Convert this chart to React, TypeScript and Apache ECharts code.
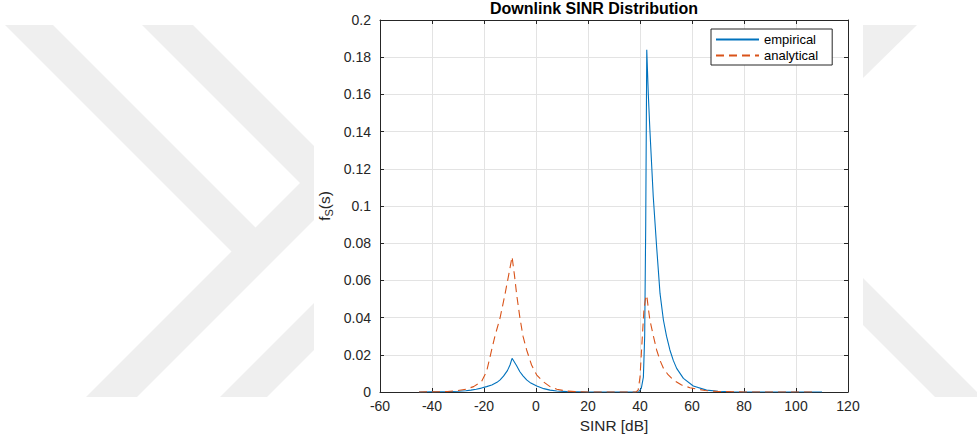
import React, { useEffect, useRef } from "react";
import * as echarts from "echarts";

// ---- data ----
const seriesNames = ["empirical", "analytical"];

const empiricalX = [
  -45, -35, -30, -27, -25, -23, -21, -19, -17, -15, -13.8, -12.5, -11, -10, -9.2,
  -8.5, -7.5, -6.2, -5, -3.6, -2, 0.3, 3, 5.4, 8, 12, 16, 20,
  39.5, 40.5, 41.3, 41.8, 42.2, 42.6, 43.2, 43.8, 45.1, 46.4, 47.7, 49, 50.2,
  51.5, 52.8, 54.1, 56.7, 60.5, 65.6, 70, 75, 80, 110,
];
const empiricalY = [
  0, 0.0002, 0.0004, 0.0007, 0.001, 0.0015, 0.0021, 0.0029, 0.0038, 0.0052, 0.0065,
  0.0085, 0.0115, 0.0145, 0.0181, 0.0165, 0.0142, 0.0109, 0.0087, 0.0065, 0.0048,
  0.0032, 0.0018, 0.001, 0.0005, 0.0002, 0.0001, 0,
  0, 0.002, 0.008, 0.03, 0.09, 0.184, 0.16, 0.141, 0.105, 0.078, 0.053, 0.0387,
  0.03, 0.0226, 0.017, 0.0127, 0.0073, 0.0032, 0.001, 0.0004, 0.0001, 0, 0,
];

const analyticalX = [
  -45, -38, -34, -30, -27, -24, -21, -19, -17.5, -15.8, -13.8, -12, -10.5, -9.2,
  -8.3, -7.4, -6.2, -5, -3.6, -1.7, 0.3, 2.8, 5.4, 8, 11.8, 15, 20,
  38.5, 39.3, 40, 40.6, 41.5, 42.1, 42.6, 43.2, 43.8, 45, 46.4, 47.7, 49, 50.8,
  52.8, 56, 59.2, 65, 70, 80, 108,
];
const analyticalY = [
  0, 0.0001, 0.0003, 0.0008, 0.0015, 0.0029, 0.0055, 0.011, 0.02, 0.03, 0.04,
  0.052, 0.063, 0.0727, 0.063, 0.052, 0.04, 0.03, 0.0226, 0.0145, 0.0091, 0.0055,
  0.0029, 0.0015, 0.0005, 0.0002, 0,
  0, 0.001, 0.008, 0.0226, 0.044, 0.05, 0.052, 0.045, 0.0387, 0.031, 0.0226,
  0.017, 0.0128, 0.0093, 0.0065, 0.0038, 0.0023, 0.0008, 0.0003, 0, 0,
];

const xMin = -60;
const xMax = 120;
const xStep = 20;
const yMin = 0;
const yMax = 0.2;
const yStep = 0.02;

const titleText = "Downlink SINR Distribution";
const xLabel = "SINR [dB]";

const FONT = "'Liberation Sans', Arial, Helvetica, sans-serif";
const AXIS = "#262626";
const GRID = "#e3e3e3";
const WM = "#efefef";
const BLUE = "#0072BD";
const ORANGE = "#D95319";
const DASH = [8, 5];

export default function App() {
  const ref = useRef<HTMLDivElement>(null);

  useEffect(() => {
    document.body.style.margin = "0";
    const chart = echarts.init(ref.current!, null, { renderer: "svg" });

    const fmtY = (v: number) => String(parseFloat(v.toFixed(3)));
    const baseX = {
      type: "value",
      min: xMin,
      max: xMax,
      interval: xStep,
    };
    const baseY = {
      type: "value",
      min: yMin,
      max: yMax,
      interval: yStep,
    };
    const line = { show: true, onZero: false, lineStyle: { color: AXIS, width: 1 } };
    const tick = { show: true, inside: true, length: 4, lineStyle: { color: AXIS } };

    chart.setOption({
      animation: false,
      backgroundColor: "#ffffff",
      textStyle: { fontFamily: FONT },
      graphic: [
        // watermark chevrons
        { type: "polygon", z: -100, silent: true, shape: { points: [[5, 25], [53, 25], [275, 247], [251, 271]] }, style: { fill: WM } },
        { type: "polygon", z: -100, silent: true, shape: { points: [[142, 25], [193, 25], [351, 183], [137, 397], [86, 397], [300, 183]] }, style: { fill: WM } },
        { type: "polygon", z: -100, silent: true, shape: { points: [[220, 397], [267, 397], [314, 350], [314, 303]] }, style: { fill: WM } },
        { type: "polygon", z: -100, silent: true, shape: { points: [[863, 25], [917, 25], [863, 78]] }, style: { fill: WM } },
        { type: "polygon", z: -100, silent: true, shape: { points: [[863, 278], [977, 392], [977, 397], [935, 397], [863, 325]] }, style: { fill: WM } },
        // figure area
        { type: "rect", z: -99, silent: true, shape: { x: 314, y: 0, width: 549, height: 443 }, style: { fill: "#ffffff" } },
      ],
      title: {
        text: titleText,
        left: 594,
        top: 0,
        padding: 0,
        textAlign: "center",
        textStyle: { fontFamily: FONT, fontSize: 16, fontWeight: "bold", color: "#000" },
      },
      legend: {
        orient: "vertical",
        left: 711,
        top: 29,
        padding: [4, 14, 3, 4],
        itemWidth: 43,
        itemHeight: 14,
        itemGap: 3,
        itemTextGap: 4,
        backgroundColor: "#ffffff",
        borderColor: AXIS,
        borderWidth: 1,
        borderRadius: 0,
        itemStyle: { opacity: 0 },
        textStyle: { fontFamily: FONT, fontSize: 13, color: "#000" },
        data: seriesNames,
      },
      grid: { left: 380, right: 129, top: 20, bottom: 51, containLabel: false },
      xAxis: [
        {
          ...baseX,
          position: "bottom",
          name: xLabel,
          nameLocation: "middle",
          nameGap: 24,
          nameTextStyle: { fontFamily: FONT, fontSize: 15.4, color: AXIS },
          axisLine: line,
          axisTick: tick,
          axisLabel: { color: AXIS, fontSize: 14, fontFamily: FONT, margin: 7 },
          splitLine: { show: true, lineStyle: { color: GRID, width: 1 } },
        },
        {
          ...baseX,
          position: "top",
          axisLine: line,
          axisTick: tick,
          axisLabel: { show: false },
          splitLine: { show: false },
        },
      ],
      yAxis: [
        {
          ...baseY,
          position: "left",
          name: "{f|f}{s|S}{p|(s)}",
          nameLocation: "middle",
          nameRotate: 90,
          nameGap: 46,
          nameTextStyle: {
            color: AXIS,
            rich: {
              f: { fontSize: 15.4, fontFamily: FONT, color: AXIS },
              s: { fontSize: 11, fontFamily: FONT, color: AXIS, padding: [9, 0, 0, 0] },
              p: { fontSize: 15.4, fontFamily: FONT, color: AXIS },
            },
          },
          axisLine: line,
          axisTick: tick,
          axisLabel: { color: AXIS, fontSize: 14, fontFamily: FONT, margin: 9, formatter: fmtY },
          splitLine: { show: true, lineStyle: { color: GRID, width: 1 } },
        },
        {
          ...baseY,
          position: "right",
          axisLine: line,
          axisTick: tick,
          axisLabel: { show: false },
          splitLine: { show: false },
        },
      ],
      series: [
        {
          name: seriesNames[0],
          type: "line",
          xAxisIndex: 0,
          yAxisIndex: 0,
          symbol: "none",
          showSymbol: false,
          color: BLUE,
          lineStyle: { color: BLUE, width: 1.1 },
          data: empiricalX.map((x, i) => [x, empiricalY[i]]),
        },
        {
          name: seriesNames[1],
          type: "line",
          xAxisIndex: 0,
          yAxisIndex: 0,
          symbol: "none",
          showSymbol: false,
          color: ORANGE,
          lineStyle: { color: ORANGE, width: 1.1, type: DASH },
          data: analyticalX.map((x, i) => [x, analyticalY[i]]),
        },
      ],
    });

    return () => chart.dispose();
  }, []);

  return (
    <div
      ref={ref}
      style={{ position: "fixed", left: 0, top: 0, width: 977, height: 443 }}
    />
  );
}
